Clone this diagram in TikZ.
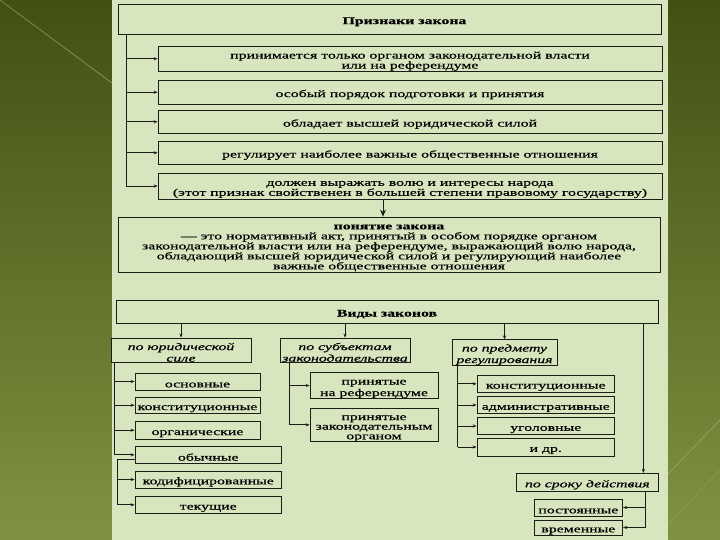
\documentclass[tikz,border=0pt]{standalone}
\usepackage{fontspec}
\setmainfont{Liberation Serif}
\newfontfamily\wf[FakeStretch=1.55,FakeBold=0.6]{Liberation Serif}
\usetikzlibrary{arrows.meta,calc}
\definecolor{panel}{RGB}{216,230,192}
\definecolor{olivedark}{RGB}{66,80,18}
\definecolor{olivemid}{RGB}{86,102,32}
\definecolor{olivelight}{RGB}{128,146,66}
\definecolor{ink}{RGB}{28,28,24}
\newcommand\stt{\rule{0pt}{11.8pt}}
\begin{document}
\begin{tikzpicture}[x=1pt,y=-1pt,
  bx/.style={draw=ink, line width=0.8pt, fill=panel, inner sep=0pt, align=center,
    font=\wf\fontsize{10.2}{10}\selectfont},
  lbx/.style={bx, font=\wf\fontsize{10.2}{11.5}\selectfont},
  ibx/.style={bx, font=\wf\itshape\fontsize{10.2}{11.5}\selectfont},
  hbx/.style={bx, font=\wf\bfseries\fontsize{10.2}{10}\selectfont},
  ln/.style={draw=ink, line width=0.8pt},
  arr/.style={ln, -{Stealth[length=4pt,width=3.2pt]}},
  bigarr/.style={ln, -{Stealth[length=7pt,width=6pt]}}]
\useasboundingbox (0,0) rectangle (720,540);
% background
\shade[top color=olivedark, middle color=olivemid, bottom color=olivelight] (0,0) rectangle (720,540);
\draw[olivelight!70!white, line width=0.8pt, opacity=0.6] (0,0) -- (112,83);
\draw[olivelight!70!white, line width=0.8pt, opacity=0.6] (720,420) -- (668,474);
\draw[olivelight!70!white, line width=0.6pt, opacity=0.4] (720,470) -- (668,524);
\fill[panel] (112,0) rectangle (668,540);

% ---- top part
\node[hbx, minimum width=543pt, minimum height=30.5pt] (priz) at (389.5,19.25) {\stt\hspace*{30pt}Признаки закона};
\node[bx, minimum width=504pt, minimum height=24.5pt] (b1) at (410,58.75)
  {\stt принимается только органом законодательной власти\\или на референдуме};
\node[bx, minimum width=504pt, minimum height=24.5pt] (b2) at (410,92.25)
  {\stt особый порядок подготовки и принятия};
\node[bx, minimum width=504pt, minimum height=23.6pt] (b3) at (410,121.8)
  {\stt обладает высшей юридической силой};
\node[bx, minimum width=504pt, minimum height=23.6pt] (b4) at (410,152.8)
  {\stt регулирует наиболее важные общественные отношения};
\node[bx, minimum width=504pt, minimum height=26pt] (b5) at (410,186)
  {\stt должен выражать волю и интересы народа\\(этот признак свойственен в большей степени правовому государству)};

\node[bx, minimum width=542pt, minimum height=55pt] (pon) at (389,244.5)
  {\stt{\bfseries понятие закона}\\
   — это нормативный акт, принятый в особом порядке органом\\
   законодательной власти или на референдуме, выражающий волю народа,\\
   обладающий высшей юридической силой и регулирующий наиболее\\
   важные общественные отношения};

\coordinate (tT) at (126,34.5);
\draw[ln] (tT) -- (tT |- b5.west);
\foreach \n in {b1,b2,b3,b4,b5} \draw[arr] (tT |- \n.west) -- (\n.west);
\coordinate (a5) at ($(b5.south)+(-27,0)$);
\draw[bigarr] (a5) -- (a5 |- pon.north);

% ---- lower part
\node[hbx, minimum width=542pt, minimum height=23pt] (vid) at (387,311.5) {\stt Виды законов};

\node[ibx, minimum width=140pt, minimum height=24pt] (jur) at (181,350) {\stt по юридической\\силе};
\node[ibx, minimum width=130pt, minimum height=24pt] (subj) at (345,350) {\stt по субъектам\\законодательства};
\node[ibx, minimum width=105pt, minimum height=25pt] (pred) at (504.5,352.5) {\stt по предмету\\регулирования};

\node[lbx, minimum width=125pt, minimum height=17pt] (osn) at (197.5,381.5) {\stt основные};
\node[lbx, minimum width=125pt, minimum height=15.5pt] (konst) at (197.5,405.25) {\stt конституционные};
\node[lbx, minimum width=125pt, minimum height=17.5pt] (org) at (197.5,430.25) {\stt органические};
\node[lbx, minimum width=146.5pt, minimum height=16.3pt] (obych) at (208.25,454.85) {\stt обычные};
\node[lbx, minimum width=146.5pt, minimum height=17pt] (kodif) at (208.25,479.5) {\stt кодифицированные};
\node[lbx, minimum width=146.5pt, minimum height=16.3pt] (tek) at (208.25,504.85) {\stt текущие};

\node[lbx, minimum width=128pt, minimum height=23pt] (ref) at (374,385.5) {\stt принятые\\на референдуме};
\node[lbx, minimum width=128pt, minimum height=33.7pt, font=\wf\fontsize{10.2}{9.6}\selectfont] (zakorg) at (374,424.85)
  {\stt принятые\\законодательным\\органом};

\node[lbx, minimum width=137.5pt, minimum height=17.7pt] (k2) at (545.75,383.85) {\stt конституционные};
\node[lbx, minimum width=137.5pt, minimum height=16.6pt] (adm) at (545.75,405) {\stt административные};
\node[lbx, minimum width=137.5pt, minimum height=16.6pt] (ugol) at (545.75,426) {\stt уголовные};
\node[lbx, minimum width=137.5pt, minimum height=18pt] (idr) at (545.75,447) {\stt и др.};

\node[ibx, minimum width=141.3pt, minimum height=18.4pt] (srok) at (587.35,482.5) {\stt по сроку действия};
\node[lbx, minimum width=88.7pt, minimum height=17pt] (post) at (578.35,507.5) {\stt постоянные};
\node[lbx, minimum width=88.7pt, minimum height=15pt] (vrem) at (578.35,527.5) {\stt временные};

% connectors from "Виды законов"
\draw[arr] (jur.north |- vid.south) -- (jur.north);
\draw[arr] (subj.north |- vid.south) -- (subj.north);
\draw[arr] (pred.north |- vid.south) -- (pred.north);
\coordinate (rT) at ($(vid.south east)+(-15,0)$);
\draw[arr] (rT) -- (rT |- srok.north);

% left column
\coordinate (lT) at ($(jur.south west)+(4,0)$);
\draw[ln] (lT) -- (lT |- obych.west);
\foreach \n in {osn,konst,org,obych} \draw[arr] (lT |- \n.west) -- (\n.west);
\coordinate (o2) at ($(obych.south west)+(0,-4)$);
\coordinate (lT2) at ($(o2)+(-17,0)$);
\draw[ln] (o2) -- (lT2) -- (lT2 |- tek.west);
\foreach \n in {kodif,tek} \draw[arr] (lT2 |- \n.west) -- (\n.west);

% middle column
\coordinate (mT) at ($(subj.south west)+(10,0)$);
\draw[ln] (mT) -- (mT |- zakorg.west);
\foreach \n in {ref,zakorg} \draw[arr] (mT |- \n.west) -- (\n.west);

% right column
\coordinate (pT) at ($(pred.south west)+(6,0)$);
\draw[ln] (pT) -- (pT |- idr.west);
\foreach \n in {k2,adm,ugol,idr} \draw[arr] (pT |- \n.west) -- (\n.west);

% term of validity
\coordinate (sT) at ($(srok.south east)+(-13,0)$);
\draw[ln] (sT) -- (sT |- vrem.east);
\foreach \n in {post,vrem} \draw[arr] (sT |- \n.east) -- (\n.east);
\end{tikzpicture}
\end{document}
